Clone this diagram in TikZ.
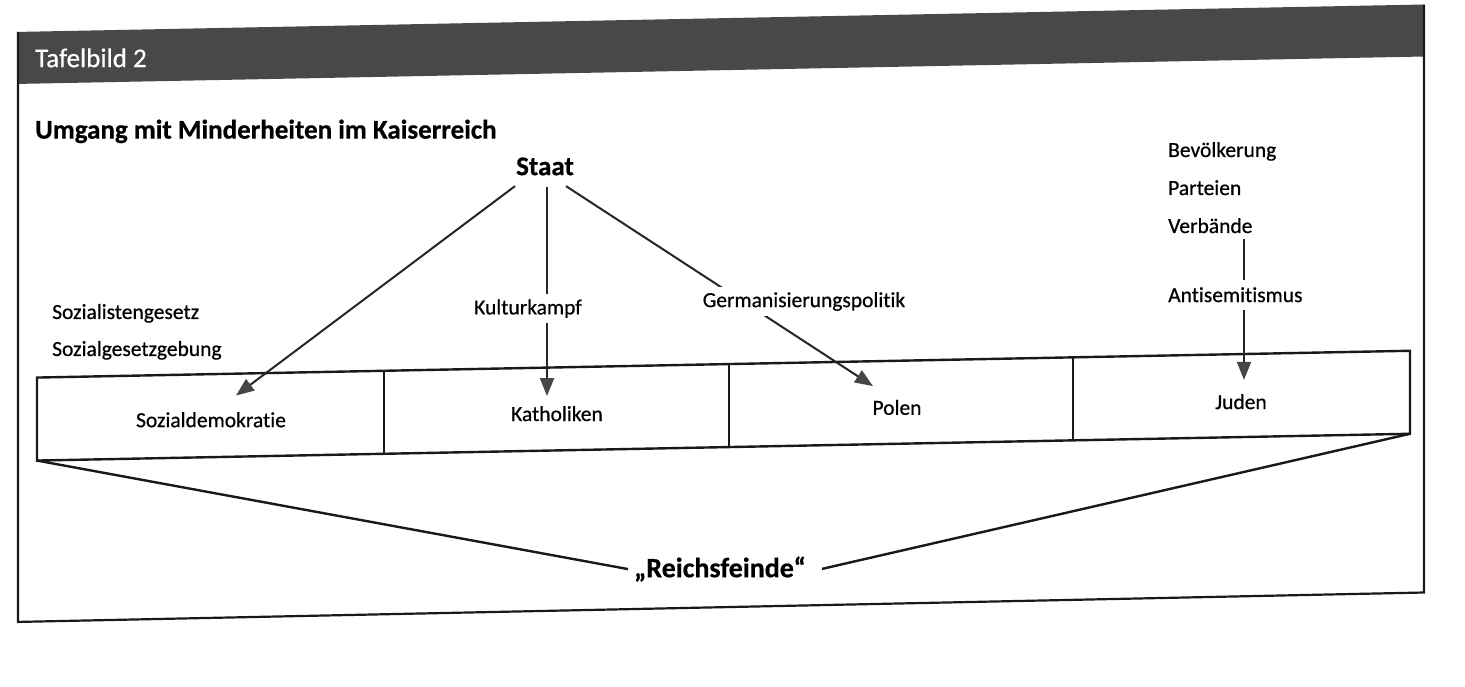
\documentclass[tikz,border=0pt]{standalone}
\usepackage{fontspec}
\setmainfont{Carlito}[Ligatures=NoCommon, FakeBold=0.6]
\usetikzlibrary{arrows.meta,calc}
\definecolor{headgray}{RGB}{72,72,72}
\definecolor{tipgray}{RGB}{70,70,70}
\begin{document}
\begin{tikzpicture}[x=1pt,y=-1pt,
  lbl/.style={inner sep=0pt, font=\fontsize{21.5}{25}\selectfont, anchor=base},
  lblw/.style={lbl, anchor=base west},
  arr/.style={line width=2pt, draw=black!85, -{Triangle[length=18pt,width=14pt,color=tipgray]}},
  edgeline/.style={line width=2.4pt, draw=black!90},
  frameline/.style={line width=2.2pt, draw=black!90},
  gapbg/.style={lbl, fill=white, inner xsep=3pt, inner ysep=5pt},
  bigbold/.style={inner sep=0pt, anchor=base, font=\bfseries\fontsize{27}{30}\selectfont}
]
\fill[white] (0,0) rectangle (1465,686);
\useasboundingbox (0,0) rectangle (1465,686);
\begin{scope}[shift={(0,14.27)}, yslant=0.0195]
  % frame and header
  \coordinate (fTL) at (18,18);
  \coordinate (fTR) at (1424,18);
  \coordinate (fBL) at (18,608);
  \coordinate (fBR) at (1424,606);
  \coordinate (hBL) at (18,70);
  \coordinate (hBR) at (1424,70);
  \fill[headgray] (fTL) -- (fTR) -- (hBR) -- (hBL) -- cycle;
  \draw[frameline] (fTL) -- (fBL) -- (fBR) -- (fTR);
  \node[inner sep=0pt, anchor=base west, text=white, font=\fontsize{27}{30}\selectfont] (tafel) at (35,53.5) {Tafelbild 2};
  \node[bigbold, anchor=base west] (title) at (35,125) {Umgang mit Minderheiten im Kaiserreich};

  % row of minorities
  \coordinate (rTL) at (37,364);
  \coordinate (rTR) at (1410,364);
  \coordinate (rBR) at (1410,447);
  \coordinate (rBL) at (37,447);
  \draw[edgeline] (rTL) -- (rTR) -- (rBR) -- (rBL) -- cycle;
  \draw[edgeline] (384,364) -- (384,447);
  \draw[edgeline] (729,364) -- (729,447);
  \draw[edgeline] (1073,364) -- (1073,447);

  \node[lbl] (soz) at (211,417) {Sozialdemokratie};
  \node[lbl] (kath) at (557,417.6) {Katholiken};
  \node[lbl] (polen) at (897,418) {Polen};
  \node[lbl] (juden) at (1241,419) {Juden};

  % state and actors
  \node[bigbold] (staat) at (545,171.5) {Staat};
  \node[lblw] (bev) at (1168,165.5) {Bevölkerung};
  \node[lblw] (part) at (1168,203.5) {Parteien};
  \node[lblw] (verb) at (1168,241.5) {Verbände};
  \node[lblw] (szg) at (52,305.7) {Sozialistengesetz};
  \node[lblw] (sgg) at (52,342.7) {Sozialgesetzgebung};

  % arrows
  \draw[arr] ([shift={(-30,10)}]staat.south) -- ([shift={(25,-16)}]soz.north);
  \draw[arr] ([shift={(2,11)}]staat.south) -- ([shift={(-10,-10)}]kath.north);
  \draw[arr] ([shift={(21,11)}]staat.south) -- ([shift={(-24,-14)}]polen.north);
  \draw[arr] ([shift={(76,7)}]verb.base west) -- ([shift={(3,-14)}]juden.north);

  % labels on arrows
  \node[gapbg] (kk) at (528,310.4) {Kulturkampf};
  \node[gapbg] (germ) at (804,308.5) {Germanisierungspolitik};
  \node[gapbg, anchor=base west, inner ysep=7.5pt] (anti) at (1165,310.5) {Antisemitismus};

  % Reichsfeinde
  \node[inner xsep=6pt, inner ysep=0pt, anchor=base, font=\bfseries\fontsize{28}{32}\selectfont] (rf) at (720,577) {„Reichsfeinde“};
  \draw[edgeline] (rBL) -- (rf.west);
  \draw[edgeline] (rBR) -- ([xshift=10pt]rf.east);
\end{scope}
\end{tikzpicture}
\end{document}
